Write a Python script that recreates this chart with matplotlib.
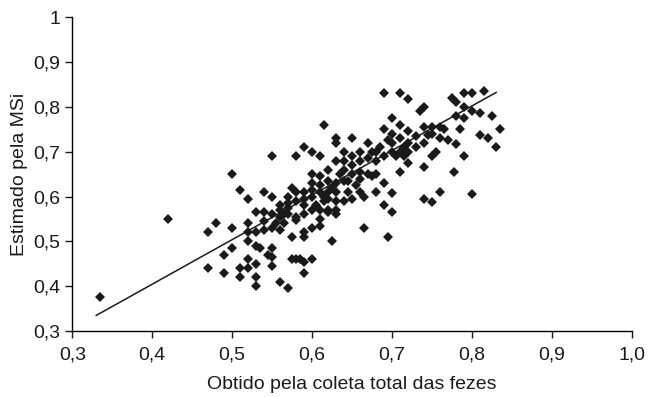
import numpy as np
import matplotlib.pyplot as plt

plt.rcParams['font.family'] = ['Liberation Sans', 'DejaVu Sans']

# values (obtido, estimado)
obtido = [
    0.335, 0.42, 0.47, 0.47, 0.48, 0.49, 0.49, 0.50, 0.50, 0.50, 0.51, 0.51, 0.51,
    0.52, 0.52, 0.52, 0.52, 0.52, 0.52, 0.53, 0.53, 0.53, 0.53, 0.53, 0.53, 0.535,
    0.54, 0.54, 0.54, 0.54, 0.545, 0.55, 0.55, 0.55, 0.55, 0.55, 0.55, 0.56, 0.56,
    0.56, 0.56, 0.565, 0.57, 0.57, 0.575, 0.575, 0.575, 0.57, 0.58, 0.58, 0.58,
    0.58, 0.58, 0.585, 0.59, 0.59, 0.59, 0.59, 0.59, 0.59, 0.59, 0.59, 0.60, 0.60,
    0.60, 0.60, 0.60, 0.60, 0.61, 0.61, 0.61, 0.61, 0.61, 0.615, 0.615, 0.62, 0.62,
    0.62, 0.62, 0.625, 0.625, 0.63, 0.63, 0.63, 0.63, 0.63, 0.63, 0.635, 0.64,
    0.64, 0.645, 0.645, 0.65, 0.65, 0.65, 0.65, 0.66, 0.66, 0.66, 0.665, 0.67,
    0.67, 0.675, 0.68, 0.675, 0.68, 0.685, 0.69, 0.69, 0.69, 0.69, 0.695, 0.695,
    0.70, 0.70, 0.70, 0.70, 0.705, 0.71, 0.71, 0.71, 0.71, 0.715, 0.715, 0.72,
    0.72, 0.72, 0.735, 0.74, 0.74, 0.74, 0.74, 0.745, 0.75, 0.75, 0.75, 0.76,
    0.76, 0.76, 0.765, 0.77, 0.775, 0.777, 0.78, 0.78, 0.78, 0.785, 0.79, 0.79,
    0.79, 0.79, 0.80, 0.80, 0.80, 0.81, 0.81, 0.815, 0.82, 0.825, 0.835, 0.83,
    # dense centre
    0.57, 0.58, 0.59, 0.60, 0.605, 0.61, 0.615, 0.62, 0.63, 0.63, 0.64, 0.64,
    0.65, 0.655, 0.66, 0.67, 0.68, 0.69, 0.70, 0.70, 0.71, 0.72, 0.72, 0.73,
    0.73, 0.74, 0.75, 0.755, 0.57, 0.56, 0.555, 0.55, 0.565, 0.60, 0.61, 0.62,
    0.64, 0.66, 0.665, 0.68,
]
estimado = [
    0.375, 0.55, 0.52, 0.44, 0.54, 0.47, 0.43, 0.485, 0.53, 0.65, 0.615, 0.44, 0.42,
    0.595, 0.54, 0.52, 0.50, 0.46, 0.44, 0.565, 0.52, 0.49, 0.45, 0.42, 0.40, 0.485,
    0.61, 0.565, 0.545, 0.525, 0.47, 0.69, 0.60, 0.56, 0.485, 0.465, 0.445, 0.58, 0.57,
    0.525, 0.41, 0.56, 0.585, 0.395, 0.62, 0.51, 0.46, 0.56, 0.69, 0.61, 0.555,
    0.547, 0.46, 0.46, 0.71, 0.61, 0.58, 0.56, 0.52, 0.51, 0.455, 0.43, 0.70, 0.65,
    0.63, 0.60, 0.53, 0.46, 0.69, 0.61, 0.57, 0.55, 0.535, 0.76, 0.59, 0.635, 0.61,
    0.57, 0.565, 0.62, 0.50, 0.73, 0.72, 0.68, 0.59, 0.57, 0.56, 0.65, 0.70,
    0.635, 0.635, 0.61, 0.73, 0.69, 0.65, 0.595, 0.70, 0.655, 0.61, 0.53, 0.72,
    0.65, 0.70, 0.70, 0.645, 0.65, 0.71, 0.83, 0.75, 0.63, 0.58, 0.725, 0.51,
    0.775, 0.70, 0.607, 0.565, 0.69, 0.83, 0.76, 0.73, 0.655, 0.71, 0.69, 0.817,
    0.745, 0.675, 0.79, 0.80, 0.755, 0.665, 0.595, 0.737, 0.755, 0.69, 0.587, 0.755,
    0.73, 0.61, 0.75, 0.725, 0.82, 0.654, 0.81, 0.78, 0.717, 0.75, 0.83, 0.80,
    0.775, 0.69, 0.83, 0.79, 0.605, 0.787, 0.737, 0.835, 0.73, 0.78, 0.75, 0.71,
    # dense centre
    0.60, 0.59, 0.595, 0.615, 0.58, 0.625, 0.60, 0.595, 0.61, 0.63, 0.66, 0.59,
    0.67, 0.625, 0.68, 0.685, 0.68, 0.69, 0.72, 0.74, 0.70, 0.72, 0.70, 0.735,
    0.71, 0.72, 0.74, 0.70, 0.575, 0.555, 0.54, 0.53, 0.54, 0.57, 0.645, 0.66,
    0.68, 0.64, 0.60, 0.61,
]

# regression line (endpoints)
reta_x = [0.33, 0.83]
reta_y = [0.335, 0.832]

x_ticks = [0.3, 0.4, 0.5, 0.6, 0.7, 0.8, 0.9, 1.0]
x_labels = ['0,3', '0,4', '0,5', '0,6', '0,7', '0,8', '0,9', '1,0']
y_ticks = [0.3, 0.4, 0.5, 0.6, 0.7, 0.8, 0.9, 1.0]
y_labels = ['0,3', '0,4', '0,5', '0,6', '0,7', '0,8', '0,9', '1']

fig = plt.figure(figsize=(6.51, 3.97), dpi=100)
ax = fig.add_axes([0.111, 0.166, 0.860, 0.791])

ax.plot(obtido, estimado, linestyle='none', marker='D', markersize=4.8,
        color='#1a1a1a', markeredgewidth=0)
ax.plot(reta_x, reta_y, color='#1a1a1a', linewidth=1.1)

ax.set_xlim(0.3, 1.0)
ax.set_ylim(0.3, 1.0)
ax.set_xticks(x_ticks)
ax.set_xticklabels(x_labels)
ax.set_yticks(y_ticks)
ax.set_yticklabels(y_labels)

ax.spines['top'].set_visible(False)
ax.spines['right'].set_visible(False)
for s in ['left', 'bottom']:
    ax.spines[s].set_linewidth(1.0)
ax.tick_params(direction='out', length=5, width=1.0, labelsize=14, colors='#1a1a1a')
ax.tick_params(axis='x', pad=6)

ax.set_xlabel('Obtido pela coleta total das fezes', fontsize=14, color='#1a1a1a', labelpad=9)
ax.set_ylabel('Estimado pela MSi', fontsize=14, color='#1a1a1a', labelpad=4)

fig.savefig('out.png', dpi=100)
